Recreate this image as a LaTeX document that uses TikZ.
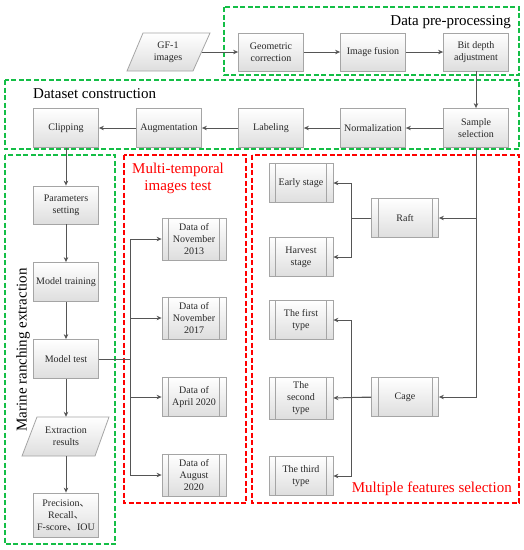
\documentclass[tikz,border=0pt]{standalone}
\usepackage{fontspec}
\setmainfont{Liberation Serif}
\newfontfamily\cjk{Noto Sans CJK SC}
\usetikzlibrary{arrows.meta,calc}
\definecolor{dgreen}{RGB}{20,190,70}
\definecolor{lnk}{RGB}{85,85,85}
\definecolor{bord}{RGB}{165,165,165}
\definecolor{txt}{RGB}{40,40,40}
\tikzset{
  box/.style={draw=bord, line width=0.8pt, top color=white, bottom color=black!13,
    minimum width=65pt, minimum height=38pt, align=center, inner sep=1pt,
    font=\fontsize{10}{12}\selectfont, text=txt},
  proc/.style={box, minimum width=64pt},
  innerline/.style={draw=bord, line width=0.8pt},
  paratext/.style={minimum height=38pt, align=center, inner sep=1pt,
    font=\fontsize{10}{12}\selectfont, text=txt},
  parafill/.style={draw=bord, line width=0.8pt, top color=white, bottom color=black!13},
  arr/.style={draw=lnk, line width=1pt, -{Stealth[length=5pt,width=4.5pt]}},
  gbox/.style={draw=dgreen, line width=1.5pt, dash pattern=on 5pt off 2.5pt},
  rbox/.style={draw=red, line width=1.5pt, dash pattern=on 5pt off 2.5pt},
  title/.style={font=\fontsize{15}{17}\selectfont, inner sep=0pt}
}
\begin{document}
\begin{tikzpicture}[x=1pt,y=-1pt]
\useasboundingbox (0,0) rectangle (524,550);

% dashed group frames
\draw[gbox] (224,7) rectangle (519,75);
\draw[gbox] (5,80) rectangle (519,149);
\draw[gbox] (5,155) rectangle (115,544);
\draw[rbox] (124,155) rectangle (246,503);
\draw[rbox] (252,155) rectangle (519,503);

% titles
\node[title, anchor=base east] (tpre) at (511,25) {Data pre-processing};
\node[title, anchor=base west] (tds) at (33,98) {Dataset construction};
\node[title, text=red, align=center] (tmt) at (178,178) {Multi-temporal\\images test};
\node[title, text=red, anchor=base east] (tmf) at (512,492) {Multiple features selection};
\node[title, rotate=90] (tmr) at (23,350) {Marine ranching extraction};

% parallelogram shapes (drawn before their text)
\path[parafill] (143,33) -- (210,33) -- (193,71) -- (127,71) -- cycle;
\path[parafill] (37,417) -- (109,417) -- (95,456) -- (22,456) -- cycle;

% row 1
\node[paratext, minimum width=67pt] (gf) at (168,52) {GF-1\\images};
\node[box] (geo) at (271,52) {Geometric\\correction};
\node[box] (fus) at (373,52) {Image fusion};
\node[box] (bit) at (476,52) {Bit depth\\adjustment};

% row 2
\node[box, minimum height=39pt] (clip) at (66,128) {Clipping};
\node[box, minimum height=39pt] (aug) at (169,128) {Augmentation};
\node[box, minimum height=39pt] (lab) at (271,128) {Labeling};
\node[box, minimum height=39pt] (norm) at (373,128) {Normalization};
\node[box, minimum height=39pt] (samp) at (476,128) {Sample\\selection};

% left column
\node[box] (param) at (66,205) {Parameters\\setting};
\node[box, minimum height=39pt] (train) at (66,282) {Model training};
\node[box, minimum height=39pt] (test) at (66,359) {Model test};
\node[paratext, minimum width=73pt, minimum height=39pt] (extr) at (66,436.5) {Extraction\\results};
\node[box, minimum height=44pt] (prec) at (66,515) {Precision{\cjk 、}\\Recall{\cjk 、}\\F-score{\cjk 、}IOU};

% multi-temporal
\node[proc, minimum height=42pt] (d1) at (194,239) {Data of\\November\\2013};
\node[proc, minimum height=42pt] (d2) at (194,318) {Data of\\November\\2017};
\node[proc, minimum height=39pt] (d3) at (194,397) {Data of\\April 2020};
\node[proc, minimum height=42pt] (d4) at (194,475) {Data of\\August\\2020};

% multiple features
\node[proc, minimum height=39pt] (early) at (301,183) {Early stage};
\node[proc, minimum height=39pt] (harv) at (301,257) {Harvest\\stage};
\node[proc, minimum height=39pt] (first) at (301,320) {The first\\type};
\node[proc, minimum height=42pt] (second) at (301,398) {The\\second\\type};
\node[proc, minimum height=39pt] (third) at (301,476) {The third\\type};
\node[proc, minimum width=67pt, minimum height=39pt] (raft) at (405,218) {Raft};
\node[proc, minimum width=67pt, minimum height=39pt] (cage) at (405,397) {Cage};

% inner side bars of the process boxes
\foreach \n in {d1,d2,d3,d4,early,harv,first,second,third,raft,cage}{
  \draw[innerline] ([xshift=7pt]\n.north west) -- ([xshift=7pt]\n.south west);
  \draw[innerline] ([xshift=-7pt]\n.north east) -- ([xshift=-7pt]\n.south east);
}

% connectors
\draw[arr] (gf) -- (geo);
\draw[arr] (geo) -- (fus);
\draw[arr] (fus) -- (bit);
\draw[arr] (bit) -- (samp);
\draw[arr] (samp) -- (norm);
\draw[arr] (norm) -- (lab);
\draw[arr] (lab) -- (aug);
\draw[arr] (aug) -- (clip);
\draw[arr] (clip) -- (param);
\draw[arr] (param) -- (train);
\draw[arr] (train) -- (test);
\draw[arr] (test) -- (extr);
\draw[arr] (extr) -- (prec);

\draw[arr] (test.east) -- ++(32,0) |- (d1.west);
\draw[arr] (test.east) -- ++(32,0) |- (d2.west);
\draw[arr] (test.east) -- ++(32,0) |- (d3.west);
\draw[arr] (test.east) -- ++(32,0) |- (d4.west);

\draw[arr] (samp.south) |- (raft.east);
\draw[arr] (samp.south) |- (cage.east);

\draw[arr] (raft.west) -- ++(-20,0) |- (early.east);
\draw[arr] (raft.west) -- ++(-20,0) |- (harv.east);
\draw[arr] (cage.west) -- ++(-20,0) |- (first.east);
\draw[arr] (cage.west) -- (second.east);
\draw[arr] (cage.west) -- ++(-20,0) |- (third.east);
\end{tikzpicture}
\end{document}
